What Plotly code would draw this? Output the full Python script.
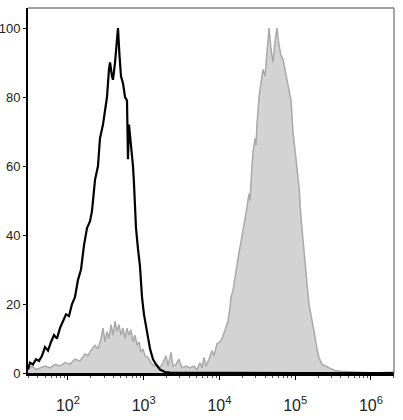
import plotly.graph_objects as go

# log10 of fluorescence intensity and % of max
control_log = [1.472, 1.498, 1.538, 1.578, 1.617, 1.657, 1.696, 1.736, 1.776, 1.815,
               1.855, 1.894, 1.934, 1.974, 2.013, 2.053, 2.092, 2.132, 2.172, 2.211,
               2.251, 2.291, 2.317, 2.357, 2.396, 2.422, 2.462, 2.489, 2.515, 2.541,
               2.555, 2.581, 2.594, 2.621, 2.647, 2.660, 2.680, 2.700, 2.726, 2.753,
               2.779, 2.792, 2.805, 2.832, 2.858, 2.871, 2.898, 2.924, 2.950, 2.977,
               3.003, 3.043, 3.083, 3.122, 3.162, 3.215, 3.281, 3.346, 4.0, 5.0, 6.304]
control_val = [1, 3, 2.5, 4, 3.5, 5, 7.5, 6.5, 9, 11,
               10, 13, 15, 17, 16.5, 20, 22, 27, 30, 37,
               42, 44, 47, 56, 60, 68, 72, 76, 80, 88,
               90, 86, 85, 90, 97, 100, 92, 86, 84, 80,
               79, 62, 72, 66, 60, 55, 42, 36, 31, 22,
               17, 12, 7, 4, 2.5, 1, 0.3, 0.1, 0, 0, 0]

stained_log = [1.472, 1.525, 1.578, 1.630, 1.696, 1.762, 1.828, 1.894, 1.960, 2.026,
               2.092, 2.158, 2.224, 2.264, 2.317, 2.357, 2.396, 2.436, 2.462, 2.489,
               2.515, 2.541, 2.568, 2.594, 2.621, 2.647, 2.673, 2.700, 2.726, 2.753,
               2.779, 2.805, 2.832, 2.858, 2.885, 2.911, 2.938, 2.964, 2.990, 3.017,
               3.056, 3.096, 3.135, 3.175, 3.215, 3.254, 3.294, 3.320, 3.360, 3.386,
               3.426, 3.465, 3.505, 3.558, 3.611, 3.663, 3.703, 3.743, 3.769, 3.795,
               3.822, 3.861, 3.901, 3.927, 3.967, 4.007, 4.033, 4.073, 4.113, 4.139,
               4.152, 4.179, 4.205, 4.232, 4.258, 4.284, 4.310, 4.337, 4.363, 4.390,
               4.403, 4.429, 4.443, 4.469, 4.482, 4.495, 4.522, 4.548, 4.574, 4.601,
               4.627, 4.654, 4.680, 4.706, 4.733, 4.759, 4.786, 4.812, 4.838, 4.865,
               4.891, 4.918, 4.944, 4.970, 4.997, 5.023, 5.050, 5.076, 5.102, 5.129,
               5.155, 5.181, 5.208, 5.234, 5.261, 5.287, 5.313, 5.353, 5.406, 5.459,
               5.525, 5.591, 5.723, 5.855, 5.987, 6.119, 6.290, 6.304]
stained_val = [1, 2, 1, 1.5, 2, 1.5, 2.5, 2, 3, 2.5,
               4, 3.5, 5.5, 5, 7, 8, 7, 10, 13, 9,
               12, 10, 14, 11, 15, 12, 14, 11, 13, 10,
               13, 11, 12.5, 9, 11, 8, 9, 6, 7, 5,
               4.5, 3, 2, 2.5, 1.5, 3, 5, 2, 6, 2,
               2.5, 4, 1.5, 2, 1.5, 2, 1, 3, 1.5, 4.5,
               2, 4, 6.5, 5, 8.5, 9, 10, 12.5, 15, 19,
               22, 24, 28, 31, 35, 38, 41, 44, 48, 52,
               50, 60, 64, 68, 66, 72, 80, 84, 88, 86,
               94, 100, 94, 90, 96, 100, 95, 92, 91, 88,
               86, 82, 79, 70, 64, 60, 54, 45, 38, 31,
               26, 20, 17, 14, 10.5, 7, 4.5, 2.5, 2, 1.5,
               0.7, 0.5, 0.3, 0.2, 0.1, 0.1, 0.3, 1]

y_ticks = [0, 20, 40, 60, 80, 100]
x_tick_exps = [2, 3, 4, 5, 6]

fig = go.Figure()
fig.add_trace(go.Scatter(
    x=[10 ** v for v in stained_log], y=stained_val, mode="lines",
    line=dict(color="#a9a9a9", width=1.5), fill="tozeroy", fillcolor="#d3d3d3",
    hoverinfo="skip", showlegend=False))
fig.add_trace(go.Scatter(
    x=[10 ** v for v in control_log], y=control_val, mode="lines",
    line=dict(color="black", width=2.2), hoverinfo="skip", showlegend=False))

fig.update_layout(
    width=403, height=420,
    margin=dict(l=28, r=9, t=8, b=47),
    paper_bgcolor="white", plot_bgcolor="white",
    font=dict(family="Liberation Sans, Arial, sans-serif", color="#222"),
    xaxis=dict(
        type="log", range=[1.472, 6.304], automargin=False,
        tickvals=[10 ** e for e in x_tick_exps],
        ticktext=["10<sup>%d</sup>" % e for e in x_tick_exps],
        tickfont=dict(size=16),
        ticks="outside", ticklen=4, tickcolor="black", tickwidth=1,
        ticklabelstandoff=12,
        minor=dict(ticks="outside", ticklen=2, tickcolor="#555",
                   tickvals=[m * 10 ** e for e in range(1, 7) for m in range(2, 10)]),
        showline=True, linecolor="black", linewidth=2.5,
        showgrid=False, zeroline=False),
    yaxis=dict(
        range=[0, 105.8], automargin=False,
        tickvals=y_ticks, ticktext=[str(v) for v in y_ticks],
        tickfont=dict(size=13),
        ticks="outside", ticklen=3, tickcolor="black",
        ticklabelstandoff=0,
        showline=True, linecolor="black", linewidth=2,
        showgrid=False, zeroline=False),
    shapes=[
        dict(type="line", xref="paper", yref="paper", x0=0, x1=1, y0=1, y1=1,
             line=dict(color="#444", width=1.2)),
        dict(type="line", xref="paper", yref="paper", x0=1, x1=1, y0=0, y1=1,
             line=dict(color="#888", width=1.5)),
    ],
)

fig.write_html("out.html", config={"displayModeBar": False, "staticPlot": True},
               post_script="document.body.style.margin='0';document.body.style.padding='0';")
